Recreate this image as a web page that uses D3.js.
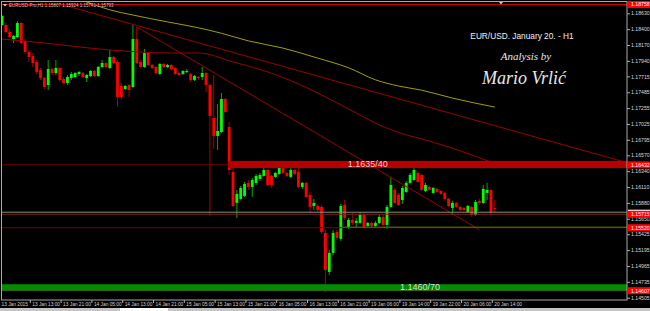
<!doctype html>
<html>
<head>
<meta charset="utf-8">
<title>EUR/USD H1</title>
<script src="https://cdnjs.cloudflare.com/ajax/libs/d3/7.8.5/d3.min.js"></script>
<style>
  html, body { margin: 0; padding: 0; background: #000; }
  svg { display: block; font-family: "Liberation Sans", Arial, sans-serif; }
</style>
</head>
<body>
<div id="chart"></div>
<script>
// H1 bars, 13 Jan 05:00 ... 20 Jan 14:00 (index = position in arrays)
const opens = [1.18460,1.18460,1.18359,1.18257,1.18286,1.18489,1.18228,1.18069,1.18011,1.17924,
  1.17808,1.17692,1.17590,1.17822,1.17764,1.17837,1.17677,1.17619,1.17692,1.17706,
  1.17750,1.17764,1.17692,1.17721,1.17793,1.17721,1.17851,1.17909,1.17837,1.17996,
  1.17924,1.17576,1.17532,1.17590,1.17561,1.18257,1.17924,1.17851,1.18054,1.17880,
  1.17851,1.17750,1.17895,1.17851,1.17880,1.17837,1.17764,1.17750,1.17779,1.17750,
  1.17663,1.17706,1.17706,1.17764,1.17590,1.17112,1.16851,1.16909,1.17387,1.16981,
  1.16329,1.15880,1.15938,1.15981,1.16170,1.16112,1.16170,1.16228,1.16271,1.16358,
  1.16271,1.16257,1.16300,1.16387,1.16315,1.16257,1.16358,1.16329,1.16112,1.16170,
  1.15996,1.15836,1.15836,1.15822,1.15445,1.14879,1.15155,1.15459,1.15358,1.15851,
  1.15532,1.15633,1.15590,1.15590,1.15706,1.15546,1.15590,1.15546,1.15590,1.15677,
  1.15561,1.15822,1.16068,1.15996,1.15923,1.16039,1.16170,1.16213,1.16315,1.16286,
  1.16054,1.16112,1.16025,1.16083,1.16054,1.16025,1.15938,1.15807,1.15880,1.15822,
  1.15807,1.15749,1.15822,1.15706,1.15909,1.15880,1.16025,1.16068,1.15807];
const highs = [1.18605,1.18489,1.18402,1.18315,1.18518,1.18504,1.18257,1.18098,1.18054,1.17953,
  1.17837,1.17706,1.17953,1.17837,1.17953,1.17851,1.17706,1.17735,1.17779,1.17779,
  1.17793,1.17779,1.17750,1.17808,1.17808,1.17866,1.17953,1.17924,1.18098,1.18011,
  1.17953,1.17619,1.17590,1.17605,1.18460,1.18431,1.17953,1.18112,1.18069,1.17895,
  1.17866,1.17909,1.17909,1.17895,1.17895,1.17851,1.17779,1.17808,1.17822,1.17764,
  1.17735,1.17721,1.17851,1.17779,1.17605,1.17735,1.17315,1.17474,1.17402,1.17054,
  1.16387,1.16068,1.16126,1.16184,1.16213,1.16242,1.16300,1.16315,1.16402,1.16373,
  1.16286,1.16329,1.16460,1.16402,1.16329,1.16460,1.16373,1.16460,1.16184,1.16184,
  1.16039,1.15938,1.15865,1.15851,1.15488,1.15198,1.15488,1.15488,1.15865,1.15923,
  1.15662,1.15735,1.15662,1.15749,1.15735,1.15604,1.15604,1.15619,1.15706,1.15706,
  1.15851,1.16257,1.16097,1.16025,1.16126,1.16199,1.16315,1.16402,1.16344,1.16300,
  1.16170,1.16126,1.16112,1.16097,1.16068,1.16039,1.15952,1.15909,1.15894,1.15836,
  1.15822,1.15851,1.15836,1.15923,1.15938,1.16141,1.16170,1.16083,1.15924];
const lows = [1.18446,1.18344,1.18272,1.18199,1.18272,1.18185,1.18040,1.17924,1.17851,1.17750,
  1.17663,1.17532,1.17518,1.17735,1.17735,1.17634,1.17605,1.17590,1.17663,1.17692,
  1.17721,1.17692,1.17634,1.17706,1.17706,1.17706,1.17837,1.17837,1.17822,1.17895,
  1.17271,1.17373,1.17518,1.17416,1.17547,1.17895,1.17837,1.17837,1.17866,1.17822,
  1.17750,1.17735,1.17837,1.17837,1.17808,1.17735,1.17721,1.17735,1.17764,1.17634,
  1.17648,1.17663,1.17663,1.17489,1.15691,1.16662,1.16648,1.16894,1.17184,1.16286,
  1.15822,1.15662,1.15923,1.15967,1.16068,1.15967,1.16141,1.16199,1.16257,1.16126,
  1.16097,1.16242,1.16286,1.16300,1.16257,1.16242,1.16286,1.16097,1.16083,1.15952,
  1.15735,1.15778,1.15749,1.15430,1.14589,1.14835,1.15126,1.15343,1.15329,1.15633,
  1.15503,1.15561,1.15517,1.15575,1.15517,1.15532,1.15517,1.15532,1.15575,1.15546,
  1.15503,1.15807,1.15865,1.15836,1.15865,1.16025,1.16155,1.16199,1.16170,1.16054,
  1.16039,1.16054,1.16010,1.16025,1.15996,1.15923,1.15822,1.15706,1.15807,1.15764,
  1.15764,1.15735,1.15677,1.15691,1.15851,1.15865,1.15923,1.15720,1.15741];
const closes = [1.18591,1.18359,1.18286,1.18301,1.18489,1.18199,1.18069,1.17996,1.17909,1.17779,
  1.17692,1.17561,1.17822,1.17764,1.17837,1.17663,1.17619,1.17706,1.17750,1.17764,
  1.17779,1.17706,1.17735,1.17793,1.17721,1.17851,1.17909,1.17851,1.17996,1.17909,
  1.17416,1.17416,1.17576,1.17518,1.18257,1.17909,1.17851,1.18054,1.17880,1.17837,
  1.17764,1.17895,1.17851,1.17880,1.17822,1.17750,1.17735,1.17793,1.17793,1.17663,
  1.17721,1.17692,1.17764,1.17590,1.17141,1.16851,1.16923,1.17387,1.17199,1.16358,
  1.15836,1.16010,1.16097,1.16155,1.16112,1.16213,1.16271,1.16286,1.16358,1.16141,
  1.16141,1.16315,1.16387,1.16315,1.16271,1.16358,1.16300,1.16112,1.16170,1.15967,
  1.15822,1.15880,1.15778,1.15459,1.14908,1.15155,1.15445,1.15372,1.15836,1.15662,
  1.15633,1.15590,1.15619,1.15706,1.15532,1.15590,1.15546,1.15590,1.15677,1.15561,
  1.15822,1.16141,1.15880,1.15851,1.16097,1.16170,1.16286,1.16358,1.16184,1.16068,
  1.16141,1.16068,1.16097,1.16039,1.16010,1.15938,1.15836,1.15880,1.15822,1.15778,
  1.15778,1.15836,1.15706,1.15894,1.15880,1.16083,1.16068,1.15735,1.15793];

// moving averages (bar index, price)
const maSlowIdx = [20, 22, 28, 34, 43, 51, 57, 64, 73, 82, 90, 97, 103, 109, 117, 128];
const maSlow = [1.18840,1.18795,1.18680,1.18605,1.18505,1.18420,1.18340,1.18230,1.18125,1.17980,1.17840,1.17665,1.17575,1.17515,1.17400,1.17270];
const maFastIdx = [0, 11, 28, 44, 51, 60, 69, 77, 85, 92, 98, 105, 109, 119, 128];
const maFast = [1.18257,1.18199,1.18098,1.18054,1.18054,1.17924,1.17779,1.17605,1.17387,1.17184,1.17010,1.16866,1.16808,1.16634,1.16450];

// trend lines: [bar, price] pairs
const trendA = [[15, 1.18765], [128, 1.17000]];   // extended to the right edge
const trendC = [[35, 1.18431], [124, 1.15490]];

// axis values
const priceTicks = [1.18630,1.18400,1.18170,1.17940,1.17715,1.17485,1.17255,1.17025,1.16795,1.16570,
  1.16340,1.16110,1.15880,1.15650,1.15425,1.15195,1.14965,1.14735,1.14505];
const timeIdx = [0, 8, 16, 24, 32, 40, 48, 56, 64, 72, 80, 88, 96, 104, 112, 120, 128];
const timeLabels = ["13 Jan 2015","13 Jan 13:00","13 Jan 21:00","14 Jan 05:00","14 Jan 13:00","14 Jan 21:00",
  "15 Jan 05:00","15 Jan 13:00","15 Jan 21:00","16 Jan 05:00","16 Jan 13:00","16 Jan 21:00",
  "19 Jan 06:00","19 Jan 14:00","19 Jan 22:00","20 Jan 06:00","20 Jan 14:00"];

// levels
const zoneHigh = {top: 1.16490, bottom: 1.16385, from: 59, label: "1.1635/40"};
const zoneLow = {top: 1.14700, bottom: 1.14607, from: 0, label: "1.1460/70"};
const hLines = [
  {p: 1.18758, color: "#d00000"},
  {p: 1.16432, color: "#780000"},
  {p: 1.15745, color: "#8a8a8a"},
  {p: 1.15715, color: "#7a2808"},
  {p: 1.15520, color: "#780000"},
  {p: 1.14607, color: "#d00000"}
];
const greenLine = {p: 1.15528, from: 88};
const axisBoxes = [
  {p: 1.18758, text: "1.18758"},
  {p: 1.16432, text: "1.16432"},
  {p: 1.15715, text: "1.15715"},
  {p: 1.15520, text: "1.15520"},
  {p: 1.14607, text: "1.14607"}
];
const bidLevel = 1.15745;

const W = 650, H = 311;
const plot = {left: 2, top: 2, right: 627, bottom: 300};

const x = d3.scaleLinear().domain([0, 128]).range([2, 494.8]);
const y = d3.scaleLinear().domain([1.14505, 1.18630]).range([297.7, 13.3]);
const xEnd = x.invert(plot.right);

const svg = d3.select('#chart').append('svg')
  .attr('width', W).attr('height', H);

svg.append('rect').attr('width', W).attr('height', H).attr('fill', '#000');

svg.append('clipPath').attr('id', 'clip')
  .append('rect')
  .attr('x', plot.left).attr('y', plot.top)
  .attr('width', plot.right - plot.left).attr('height', plot.bottom - plot.top);

const g = svg.append('g').attr('clip-path', 'url(#clip)');

// candles
const bars = d3.range(opens.length).map(i => ({i, o: opens[i], h: highs[i], l: lows[i], c: closes[i]}));

g.selectAll('line.wick')
  .data(bars)
  .join('line')
  .attr('class', 'wick')
  .attr('x1', d => x(d.i)).attr('x2', d => x(d.i))
  .attr('y1', d => y(d.h)).attr('y2', d => y(d.l))
  .attr('stroke', d => d.c >= d.o ? '#00a800' : '#a80000')
  .attr('stroke-width', 1);

g.selectAll('rect.body')
  .data(bars)
  .join('rect')
  .attr('class', 'body')
  .attr('x', d => x(d.i) - 1.4)
  .attr('width', 2.8)
  .attr('y', d => y(Math.max(d.o, d.c)))
  .attr('height', d => Math.max(1, y(Math.min(d.o, d.c)) - y(Math.max(d.o, d.c))))
  .attr('fill', d => d.c >= d.o ? '#00ff00' : '#ff0000');

// moving averages
const maLine = d3.line().x(d => x(d[0])).y(d => y(d[1])).curve(d3.curveMonotoneX);

g.append('path')
  .attr('d', maLine(maSlowIdx.map((d, i) => [d, maSlow[i]])))
  .attr('fill', 'none').attr('stroke', '#a0a000').attr('stroke-width', 1);

g.append('path')
  .attr('d', maLine(maFastIdx.map((d, i) => [d, maFast[i]])))
  .attr('fill', 'none').attr('stroke', '#9a0000').attr('stroke-width', 1);

// trend lines
const slopeA = (trendA[1][1] - trendA[0][1]) / (trendA[1][0] - trendA[0][0]);
g.append('line')
  .attr('x1', x(trendA[0][0])).attr('y1', y(trendA[0][1]))
  .attr('x2', x(xEnd)).attr('y2', y(trendA[0][1] + slopeA * (xEnd - trendA[0][0])))
  .attr('stroke', '#9a0000').attr('stroke-width', 1);

g.append('line')
  .attr('x1', x(trendC[0][0])).attr('y1', y(trendC[0][1]))
  .attr('x2', x(trendC[1][0])).attr('y2', y(trendC[1][1]))
  .attr('stroke', '#9a0000').attr('stroke-width', 1);

// horizontal levels
g.selectAll('line.level')
  .data(hLines)
  .join('line')
  .attr('class', 'level')
  .attr('x1', plot.left).attr('x2', plot.right)
  .attr('y1', d => y(d.p)).attr('y2', d => y(d.p))
  .attr('stroke', d => d.color).attr('stroke-width', 1);

g.append('line')
  .attr('x1', x(greenLine.from)).attr('x2', plot.right)
  .attr('y1', y(greenLine.p)).attr('y2', y(greenLine.p))
  .attr('stroke', '#3f8a00').attr('stroke-width', 1);

// zones
g.append('rect')
  .attr('x', x(zoneHigh.from) - 1).attr('width', plot.right - x(zoneHigh.from) + 1)
  .attr('y', y(zoneHigh.top)).attr('height', y(zoneHigh.bottom) - y(zoneHigh.top))
  .attr('fill', '#b40000');
g.append('text')
  .attr('x', x(95)).attr('y', (y(zoneHigh.top) + y(zoneHigh.bottom)) / 2 + 3)
  .attr('text-anchor', 'middle')
  .attr('font-size', 9).attr('fill', '#f4caca')
  .text(zoneHigh.label);

g.append('rect')
  .attr('x', plot.left).attr('width', plot.right - plot.left)
  .attr('y', y(zoneLow.top)).attr('height', y(zoneLow.bottom) - y(zoneLow.top))
  .attr('fill', '#008e00');
g.append('text')
  .attr('x', x(108.6)).attr('y', (y(zoneLow.top) + y(zoneLow.bottom)) / 2 + 3)
  .attr('text-anchor', 'middle')
  .attr('font-size', 9).attr('fill', '#cfe6cf')
  .text(zoneLow.label);

// frame
svg.append('rect')
  .attr('x', 1.5).attr('y', 1.5)
  .attr('width', plot.right - 1.5).attr('height', plot.bottom - 1.5)
  .attr('fill', 'none').attr('stroke', '#a8a8a8').attr('stroke-width', 1);

// price axis
const yAxis = svg.append('g')
  .attr('transform', `translate(${plot.right},0)`)
  .call(d3.axisRight(y).tickValues(priceTicks).tickSize(3).tickSizeOuter(0).tickFormat(d3.format('.5f')));
yAxis.select('.domain').remove();
yAxis.selectAll('line').attr('stroke', '#b0b0b0');
yAxis.selectAll('text').attr('x', 4).attr('font-size', 5.2).attr('fill', '#d8d8d8')
  .attr('font-family', '"Liberation Sans", Arial, sans-serif');

// bid marker (mostly hidden behind the red box below it)
svg.append('rect')
  .attr('x', plot.right + 1).attr('y', y(bidLevel) - 2.5)
  .attr('width', 22).attr('height', 3).attr('fill', '#ffffff');

// price boxes
const boxes = svg.selectAll('g.pbox')
  .data(axisBoxes)
  .join('g')
  .attr('class', 'pbox')
  .attr('transform', d => `translate(${plot.right + 1},${y(d.p)})`);
boxes.append('rect')
  .attr('x', 0).attr('y', -3.5).attr('width', 22).attr('height', 7)
  .attr('fill', '#ff0000');
boxes.append('text')
  .attr('x', 3).attr('y', 2)
  .attr('font-size', 5.2).attr('fill', '#ffffff')
  .text(d => d.text);

// time axis
const xAxis = svg.append('g')
  .attr('transform', `translate(0,${plot.bottom})`)
  .call(d3.axisBottom(x).tickValues(timeIdx).tickSize(3).tickSizeOuter(0)
    .tickFormat((d, i) => timeLabels[i]));
xAxis.select('.domain').remove();
xAxis.selectAll('line').attr('x1', -3).attr('x2', -3).attr('stroke', '#b0b0b0');
xAxis.selectAll('text')
  .attr('x', -1).attr('y', 2.5)
  .attr('text-anchor', 'start')
  .attr('font-size', 4.8).attr('fill', '#d0d0d0')
  .attr('font-family', '"Liberation Sans", Arial, sans-serif');

// bottom tab strip
svg.append('rect').attr('x', 0).attr('y', 308).attr('width', W).attr('height', 3).attr('fill', '#c4c4c4');
svg.append('rect').attr('x', 120).attr('y', 308).attr('width', 48).attr('height', 3).attr('fill', '#ffffff');

// header
svg.append('path').attr('d', 'M3,4 L7,4 L5,6.5 Z').attr('fill', '#d0d0d0');
svg.append('text')
  .attr('x', 9).attr('y', 7)
  .attr('font-size', 4.5).attr('fill', '#c8c8c8')
  .text('EURUSD-Pro,H1  1.15807 1.15924 1.15741 1.15793');

// chart shift marker
svg.append('path').attr('d', 'M499,2 L503,2 L501,4.5 Z').attr('fill', '#c8c8c8');

// title and signature
svg.append('text')
  .attr('x', 522).attr('y', 39)
  .attr('text-anchor', 'middle')
  .attr('font-size', 8.3).attr('fill', '#f0f0f0')
  .text('EUR/USD. January 20. - H1');
svg.append('text')
  .attr('x', 526).attr('y', 60)
  .attr('text-anchor', 'middle')
  .attr('font-family', '"Liberation Serif", "DejaVu Serif", serif').attr('font-style', 'italic')
  .attr('font-size', 11).attr('fill', '#e8e8e8')
  .text('Analysis by');
svg.append('text')
  .attr('x', 524).attr('y', 84)
  .attr('text-anchor', 'middle')
  .attr('font-family', '"Liberation Serif", "DejaVu Serif", serif').attr('font-style', 'italic')
  .attr('font-size', 18).attr('fill', '#e8e8e8')
  .text('Mario Vrlić');
</script>
</body>
</html>
